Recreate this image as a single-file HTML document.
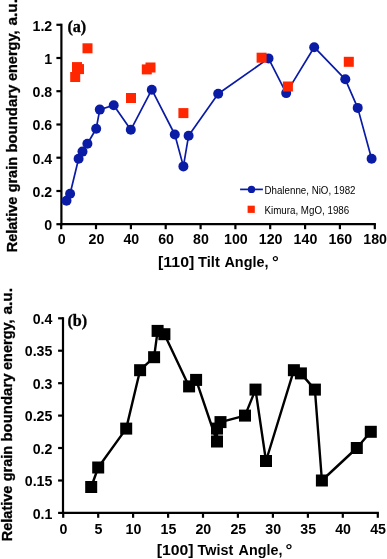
<!DOCTYPE html>
<html lang="en"><head><meta charset="utf-8"><title>Relative grain boundary energy</title>
<style>html,body{margin:0;padding:0;background:#fff}svg{display:block;will-change:transform}text{font-weight:bold;fill:#000}.r{font-weight:normal}</style></head><body>
<svg width="387" height="559" viewBox="0 0 387 559">
<rect width="387" height="559" fill="#fff"/>
<g stroke="#000" stroke-width="2.2" fill="none" stroke-linecap="butt">
<path d="M61.4 23.7V225.3"/>
<path d="M60.3 224.2H375.9"/>
<path d="M56.4 224.2H61.4"/>
<path d="M56.4 191.0H61.4"/>
<path d="M56.4 157.7H61.4"/>
<path d="M56.4 124.5H61.4"/>
<path d="M56.4 91.2H61.4"/>
<path d="M56.4 58.0H61.4"/>
<path d="M56.4 24.8H61.4"/>
<path d="M61.2 224.2V229.2"/>
<path d="M96.0 224.2V229.2"/>
<path d="M130.9 224.2V229.2"/>
<path d="M165.7 224.2V229.2"/>
<path d="M200.6 224.2V229.2"/>
<path d="M235.4 224.2V229.2"/>
<path d="M270.2 224.2V229.2"/>
<path d="M305.1 224.2V229.2"/>
<path d="M339.9 224.2V229.2"/>
<path d="M374.8 224.2V229.2"/>
</g>
<text x="44.3" y="230.0" font-family='"Liberation Sans", sans-serif' font-size="14.2" textLength="7.9" lengthAdjust="spacingAndGlyphs">0</text>
<text x="32.5" y="196.8" font-family='"Liberation Sans", sans-serif' font-size="14.2" textLength="19.7" lengthAdjust="spacingAndGlyphs">0.2</text>
<text x="32.5" y="163.5" font-family='"Liberation Sans", sans-serif' font-size="14.2" textLength="19.7" lengthAdjust="spacingAndGlyphs">0.4</text>
<text x="32.5" y="130.3" font-family='"Liberation Sans", sans-serif' font-size="14.2" textLength="19.7" lengthAdjust="spacingAndGlyphs">0.6</text>
<text x="32.5" y="97.0" font-family='"Liberation Sans", sans-serif' font-size="14.2" textLength="19.7" lengthAdjust="spacingAndGlyphs">0.8</text>
<text x="44.3" y="63.8" font-family='"Liberation Sans", sans-serif' font-size="14.2" textLength="7.9" lengthAdjust="spacingAndGlyphs">1</text>
<text x="32.5" y="30.6" font-family='"Liberation Sans", sans-serif' font-size="14.2" textLength="19.7" lengthAdjust="spacingAndGlyphs">1.2</text>
<text x="57.7" y="244.1" font-family='"Liberation Sans", sans-serif' font-size="14.2" textLength="7.9" lengthAdjust="spacingAndGlyphs">0</text>
<text x="88.5" y="244.1" font-family='"Liberation Sans", sans-serif' font-size="14.2" textLength="15.8" lengthAdjust="spacingAndGlyphs">20</text>
<text x="123.4" y="244.1" font-family='"Liberation Sans", sans-serif' font-size="14.2" textLength="15.8" lengthAdjust="spacingAndGlyphs">40</text>
<text x="158.2" y="244.1" font-family='"Liberation Sans", sans-serif' font-size="14.2" textLength="15.8" lengthAdjust="spacingAndGlyphs">60</text>
<text x="193.1" y="244.1" font-family='"Liberation Sans", sans-serif' font-size="14.2" textLength="15.8" lengthAdjust="spacingAndGlyphs">80</text>
<text x="224.0" y="244.1" font-family='"Liberation Sans", sans-serif' font-size="14.2" textLength="23.7" lengthAdjust="spacingAndGlyphs">100</text>
<text x="258.8" y="244.1" font-family='"Liberation Sans", sans-serif' font-size="14.2" textLength="23.7" lengthAdjust="spacingAndGlyphs">120</text>
<text x="293.6" y="244.1" font-family='"Liberation Sans", sans-serif' font-size="14.2" textLength="23.7" lengthAdjust="spacingAndGlyphs">140</text>
<text x="328.5" y="244.1" font-family='"Liberation Sans", sans-serif' font-size="14.2" textLength="23.7" lengthAdjust="spacingAndGlyphs">160</text>
<text x="363.3" y="244.1" font-family='"Liberation Sans", sans-serif' font-size="14.2" textLength="23.7" lengthAdjust="spacingAndGlyphs">180</text>
<text y="266.6" font-family='"Liberation Sans", sans-serif' font-size="14.5"><tspan x="158.0" textLength="36.3" lengthAdjust="spacingAndGlyphs">[110]</tspan> <tspan x="198.0" textLength="21.8" lengthAdjust="spacingAndGlyphs">Tilt</tspan> <tspan x="224.4" textLength="44.1" lengthAdjust="spacingAndGlyphs">Angle,</tspan> <tspan x="272.0" textLength="6.8" lengthAdjust="spacingAndGlyphs">°</tspan></text>
<text transform="translate(16.9 251.5) rotate(-90)" font-family='"Liberation Sans", sans-serif' font-size="14.5" stroke="#000" stroke-width="0.3"><tspan x="-0.8" textLength="55.6" lengthAdjust="spacingAndGlyphs">Relative</tspan> <tspan x="59.2" textLength="35.3" lengthAdjust="spacingAndGlyphs">grain</tspan> <tspan x="98.9" textLength="68.0" lengthAdjust="spacingAndGlyphs">boundary</tspan> <tspan x="170.4" textLength="50.6" lengthAdjust="spacingAndGlyphs">energy,</tspan> <tspan x="225.9" textLength="26.6" lengthAdjust="spacingAndGlyphs">a.u.</tspan></text>
<text x="67.4" y="31.8" font-family='"Liberation Serif", serif' font-size="16.2" stroke="#000" stroke-width="0.3">(a)</text>
<polyline fill="none" stroke="#0a1ba6" stroke-width="1.7" stroke-linejoin="round" points="66.5,200.8 70.1,193.8 78.6,158.7 82.5,151.6 87.4,143.7 96.2,128.7 99.8,109.6 113.7,105.2 130.8,129.8 151.8,89.7 174.8,134.5 183.4,166.4 188.6,135.7 218.2,93.8 268.5,58.4 286.2,93.1 314.2,47.2 345.3,79.3 357.7,107.9 371.6,158.8"/>
<g fill="#0a1ba6"><circle cx="66.5" cy="200.8" r="5.0"/><circle cx="70.1" cy="193.8" r="5.0"/><circle cx="78.6" cy="158.7" r="5.0"/><circle cx="82.5" cy="151.6" r="5.0"/><circle cx="87.4" cy="143.7" r="5.0"/><circle cx="96.2" cy="128.7" r="5.0"/><circle cx="99.8" cy="109.6" r="5.0"/><circle cx="113.7" cy="105.2" r="5.0"/><circle cx="130.8" cy="129.8" r="5.0"/><circle cx="151.8" cy="89.7" r="5.0"/><circle cx="174.8" cy="134.5" r="5.0"/><circle cx="183.4" cy="166.4" r="5.0"/><circle cx="188.6" cy="135.7" r="5.0"/><circle cx="218.2" cy="93.8" r="5.0"/><circle cx="268.5" cy="58.4" r="5.0"/><circle cx="286.2" cy="93.1" r="5.0"/><circle cx="314.2" cy="47.2" r="5.0"/><circle cx="345.3" cy="79.3" r="5.0"/><circle cx="357.7" cy="107.9" r="5.0"/><circle cx="371.6" cy="158.8" r="5.0"/></g>
<g fill="#ff2600"><rect x="70.2" y="72.0" width="10.0" height="10.0"/><rect x="72.0" y="62.1" width="10.0" height="10.0"/><rect x="74.0" y="64.1" width="10.0" height="10.0"/><rect x="82.5" y="43.3" width="10.0" height="10.0"/><rect x="126.0" y="93.0" width="10.0" height="10.0"/><rect x="141.8" y="64.4" width="10.0" height="10.0"/><rect x="145.5" y="62.5" width="10.0" height="10.0"/><rect x="178.4" y="108.1" width="10.0" height="10.0"/><rect x="256.6" y="52.7" width="10.0" height="10.0"/><rect x="282.9" y="81.5" width="10.0" height="10.0"/><rect x="343.8" y="56.8" width="10.0" height="10.0"/></g>
<path d="M240.1 189.4H262.9" stroke="#0a1ba6" stroke-width="1.7" fill="none"/>
<circle cx="251.5" cy="189.4" r="3.7" fill="#0a1ba6"/>
<rect x="247.6" y="205.7" width="7.2" height="7.2" fill="#ff2600"/>
<text class="r" x="264.5" y="193.6" font-family='"Liberation Sans", sans-serif' font-size="10.4" textLength="91" lengthAdjust="spacingAndGlyphs">Dhalenne, NiO, 1982</text>
<text class="r" x="264.5" y="213.7" font-family='"Liberation Sans", sans-serif' font-size="10.4" textLength="84.7" lengthAdjust="spacingAndGlyphs">Kimura, MgO, 1986</text>
<g stroke="#000" stroke-width="2.2" fill="none">
<path d="M63.0 317.2V514.0"/>
<path d="M61.9 512.9H378.9"/>
<path d="M58.1 512.9H63.0"/>
<path d="M58.1 480.5H63.0"/>
<path d="M58.1 448.0H63.0"/>
<path d="M58.1 415.6H63.0"/>
<path d="M58.1 383.2H63.0"/>
<path d="M58.1 350.7H63.0"/>
<path d="M58.1 318.3H63.0"/>
<path d="M63.2 512.9V517.8"/>
<path d="M98.2 512.9V517.8"/>
<path d="M133.1 512.9V517.8"/>
<path d="M168.1 512.9V517.8"/>
<path d="M203.0 512.9V517.8"/>
<path d="M237.9 512.9V517.8"/>
<path d="M272.9 512.9V517.8"/>
<path d="M307.9 512.9V517.8"/>
<path d="M342.8 512.9V517.8"/>
<path d="M377.8 512.9V517.8"/>
</g>
<text x="32.7" y="518.6" font-family='"Liberation Sans", sans-serif' font-size="14.2" textLength="19.7" lengthAdjust="spacingAndGlyphs">0.1</text>
<text x="24.8" y="486.2" font-family='"Liberation Sans", sans-serif' font-size="14.2" textLength="27.6" lengthAdjust="spacingAndGlyphs">0.15</text>
<text x="32.7" y="453.7" font-family='"Liberation Sans", sans-serif' font-size="14.2" textLength="19.7" lengthAdjust="spacingAndGlyphs">0.2</text>
<text x="24.8" y="421.3" font-family='"Liberation Sans", sans-serif' font-size="14.2" textLength="27.6" lengthAdjust="spacingAndGlyphs">0.25</text>
<text x="32.7" y="388.9" font-family='"Liberation Sans", sans-serif' font-size="14.2" textLength="19.7" lengthAdjust="spacingAndGlyphs">0.3</text>
<text x="24.8" y="356.4" font-family='"Liberation Sans", sans-serif' font-size="14.2" textLength="27.6" lengthAdjust="spacingAndGlyphs">0.35</text>
<text x="32.7" y="324.0" font-family='"Liberation Sans", sans-serif' font-size="14.2" textLength="19.7" lengthAdjust="spacingAndGlyphs">0.4</text>
<text x="59.6" y="533.8" font-family='"Liberation Sans", sans-serif' font-size="14.2" textLength="7.9" lengthAdjust="spacingAndGlyphs">0</text>
<text x="94.5" y="533.8" font-family='"Liberation Sans", sans-serif' font-size="14.2" textLength="7.9" lengthAdjust="spacingAndGlyphs">5</text>
<text x="125.5" y="533.8" font-family='"Liberation Sans", sans-serif' font-size="14.2" textLength="15.8" lengthAdjust="spacingAndGlyphs">10</text>
<text x="160.5" y="533.8" font-family='"Liberation Sans", sans-serif' font-size="14.2" textLength="15.8" lengthAdjust="spacingAndGlyphs">15</text>
<text x="195.4" y="533.8" font-family='"Liberation Sans", sans-serif' font-size="14.2" textLength="15.8" lengthAdjust="spacingAndGlyphs">20</text>
<text x="230.4" y="533.8" font-family='"Liberation Sans", sans-serif' font-size="14.2" textLength="15.8" lengthAdjust="spacingAndGlyphs">25</text>
<text x="265.3" y="533.8" font-family='"Liberation Sans", sans-serif' font-size="14.2" textLength="15.8" lengthAdjust="spacingAndGlyphs">30</text>
<text x="300.3" y="533.8" font-family='"Liberation Sans", sans-serif' font-size="14.2" textLength="15.8" lengthAdjust="spacingAndGlyphs">35</text>
<text x="335.2" y="533.8" font-family='"Liberation Sans", sans-serif' font-size="14.2" textLength="15.8" lengthAdjust="spacingAndGlyphs">40</text>
<text x="370.2" y="533.8" font-family='"Liberation Sans", sans-serif' font-size="14.2" textLength="15.8" lengthAdjust="spacingAndGlyphs">45</text>
<text y="554.5" font-family='"Liberation Sans", sans-serif' font-size="14.5"><tspan x="156.7" textLength="36.9" lengthAdjust="spacingAndGlyphs">[100]</tspan> <tspan x="197.6" textLength="35.6" lengthAdjust="spacingAndGlyphs">Twist</tspan> <tspan x="238.6" textLength="43.8" lengthAdjust="spacingAndGlyphs">Angle,</tspan> <tspan x="285.6" textLength="6.9" lengthAdjust="spacingAndGlyphs">°</tspan></text>
<text transform="translate(11.9 540.4) rotate(-90)" font-family='"Liberation Sans", sans-serif' font-size="14.5" stroke="#000" stroke-width="0.3"><tspan x="-0.8" textLength="55.6" lengthAdjust="spacingAndGlyphs">Relative</tspan> <tspan x="59.2" textLength="35.3" lengthAdjust="spacingAndGlyphs">grain</tspan> <tspan x="98.9" textLength="68.0" lengthAdjust="spacingAndGlyphs">boundary</tspan> <tspan x="170.4" textLength="50.6" lengthAdjust="spacingAndGlyphs">energy,</tspan> <tspan x="225.9" textLength="26.6" lengthAdjust="spacingAndGlyphs">a.u.</tspan></text>
<text x="67.4" y="326.2" font-family='"Liberation Serif", serif' font-size="16.2" stroke="#000" stroke-width="0.3">(b)</text>
<polyline fill="none" stroke="#000" stroke-width="2.4" stroke-linejoin="round" points="91.2,487.0 98.2,467.5 126.2,428.6 140.1,370.2 154.1,357.2 157.6,330.9 164.4,334.2 189.1,386.4 196.1,379.9 217.0,441.5 217.0,428.6 220.5,422.1 245.0,415.6 255.5,389.6 266.0,461.0 293.9,370.2 300.9,373.4 314.9,389.6 321.9,480.5 356.8,448.0 370.8,431.8"/>
<g fill="#000"><rect x="85.2" y="481.0" width="12.0" height="12.0"/><rect x="92.2" y="461.5" width="12.0" height="12.0"/><rect x="120.2" y="422.6" width="12.0" height="12.0"/><rect x="134.1" y="364.2" width="12.0" height="12.0"/><rect x="148.1" y="351.2" width="12.0" height="12.0"/><rect x="151.6" y="324.9" width="12.0" height="12.0"/><rect x="158.4" y="328.2" width="12.0" height="12.0"/><rect x="183.1" y="380.4" width="12.0" height="12.0"/><rect x="190.1" y="373.9" width="12.0" height="12.0"/><rect x="211.0" y="435.5" width="12.0" height="12.0"/><rect x="211.0" y="422.6" width="12.0" height="12.0"/><rect x="214.5" y="416.1" width="12.0" height="12.0"/><rect x="239.0" y="409.6" width="12.0" height="12.0"/><rect x="249.5" y="383.6" width="12.0" height="12.0"/><rect x="260.0" y="455.0" width="12.0" height="12.0"/><rect x="287.9" y="364.2" width="12.0" height="12.0"/><rect x="294.9" y="367.4" width="12.0" height="12.0"/><rect x="308.9" y="383.6" width="12.0" height="12.0"/><rect x="315.9" y="474.5" width="12.0" height="12.0"/><rect x="350.8" y="442.0" width="12.0" height="12.0"/><rect x="364.8" y="425.8" width="12.0" height="12.0"/></g>
</svg></body></html>
